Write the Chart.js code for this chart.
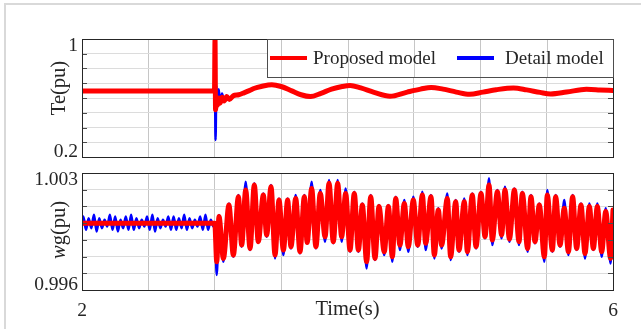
<!DOCTYPE html>
<html>
<head>
<meta charset="utf-8">
<title>Te and wg</title>
<script src="https://cdn.jsdelivr.net/npm/chart.js@4.4.1/dist/chart.umd.min.js"></script>
<style>
  html, body { margin: 0; padding: 0; background: #fff; }
  #wrap { position: relative; width: 641px; height: 329px; overflow: hidden; }
  #wrap canvas { position: absolute; left: 0; }
  #teChart { top: 0; }
  #wgChart { top: 165px; }
  .edge { position: absolute; background: #d9d9d9; }
</style>
</head>
<body>
<div id="wrap">
  <div class="edge" style="left:4px;top:3px;width:2px;height:326px"></div>
  <div class="edge" style="left:4px;top:3px;width:637px;height:2px"></div>
  <canvas id="teChart" width="641" height="165"></canvas>
  <canvas id="wgChart" width="641" height="164"></canvas>
</div>
<script>
// ---- data ----
const seriesNames = ["Proposed model", "Detail model"];

// top panel: electromagnetic torque
const teTime = [2.0, 2.5, 2.998, 3.002, 3.006, 3.012, 3.02, 3.03, 3.04, 3.055, 3.07, 3.09, 3.11, 3.14, 3.18, 3.22,
  3.26, 3.30, 3.35, 3.43, 3.50, 3.58, 3.65, 3.72, 3.80, 3.88, 3.96, 4.02, 4.10, 4.20, 4.32, 4.45,
  4.55, 4.63, 4.72, 4.82, 4.92, 5.02, 5.12, 5.25, 5.35, 5.45, 5.53, 5.65, 5.80, 5.90, 6.0];
const teProposed = [0.647, 0.647, 0.647, 1.0, 0.52, 0.59, 0.55, 0.60, 0.565, 0.605, 0.58, 0.61, 0.59, 0.615, 0.622, 0.635,
  0.65, 0.666, 0.678, 0.69, 0.678, 0.648, 0.622, 0.61, 0.632, 0.66, 0.678, 0.685, 0.668, 0.638, 0.612, 0.64,
  0.66, 0.672, 0.66, 0.64, 0.625, 0.64, 0.656, 0.668, 0.655, 0.638, 0.627, 0.64, 0.659, 0.655, 0.65];
const teDetail = [0.647, 0.647, 0.647, 0.65, 0.315, 0.685, 0.56, 0.66, 0.565, 0.63, 0.58, 0.615, 0.59, 0.612, 0.62, 0.633,
  0.65, 0.668, 0.68, 0.692, 0.676, 0.645, 0.618, 0.605, 0.63, 0.66, 0.68, 0.687, 0.666, 0.635, 0.608, 0.638,
  0.66, 0.674, 0.66, 0.638, 0.622, 0.64, 0.657, 0.67, 0.655, 0.636, 0.625, 0.64, 0.66, 0.656, 0.65];
const teTicks = ["0.2", "1"];

// bottom panel: generator speed
const wgStartTime = [2.0, 3.0];
const wgStartProposed = [1.0, 1.0];
const wgPreTime = [2.000, 2.010, 2.030, 2.050, 2.070, 2.090, 2.110, 2.130, 2.150, 2.170, 2.190, 2.210, 2.230,
  2.250, 2.270, 2.290, 2.310, 2.330, 2.350, 2.370, 2.390, 2.410, 2.430, 2.450, 2.470, 2.490, 2.510,
  2.530, 2.550, 2.570, 2.590, 2.610, 2.630, 2.650, 2.670, 2.690, 2.710, 2.730, 2.750, 2.770, 2.790,
  2.810, 2.830, 2.850, 2.870, 2.890, 2.910, 2.930, 2.950, 2.970, 2.990, 3.000];
const wgPreDetail = [1.0000, 1.0004, 0.9996, 1.0003, 0.9997, 1.0005, 0.9995, 1.0003, 0.9997, 1.0002, 0.9998,
  1.0005, 0.9996, 1.0004, 0.9995, 1.0002, 0.9997, 1.0004, 0.9996, 1.0005, 0.9996, 1.0003, 0.9997,
  1.0002, 0.9998, 1.0004, 0.9996, 1.0005, 0.9995, 1.0003, 0.9997, 1.0002, 0.9998, 1.0004, 0.9996,
  1.0004, 0.9996, 1.0003, 0.9997, 1.0005, 0.9996, 1.0003, 0.9997, 1.0002, 0.9998, 1.0004, 0.9996,
  1.0005, 0.9996, 1.0002, 0.9998, 1.0000];
const wgTime = [3.015, 3.032, 3.065, 3.107, 3.140, 3.178, 3.203, 3.233, 3.266, 3.298,
  3.328, 3.366, 3.391, 3.424, 3.454, 3.484, 3.517, 3.549, 3.574, 3.610,
  3.642, 3.675, 3.696, 3.730, 3.762, 3.795, 3.831, 3.861, 3.893, 3.926,
  3.956, 3.986, 4.019, 4.051, 4.082, 4.112, 4.144, 4.175, 4.207, 4.237,
  4.277, 4.308, 4.338, 4.363, 4.395, 4.428, 4.458, 4.496, 4.529, 4.564,
  4.589, 4.629, 4.654, 4.684, 4.709, 4.752, 4.777, 4.815, 4.840, 4.880,
  4.903, 4.940, 4.968, 5.006, 5.036, 5.066, 5.091, 5.129, 5.161, 5.186,
  5.220, 5.257, 5.292, 5.317, 5.357, 5.382, 5.412, 5.445, 5.483, 5.505,
  5.543, 5.568, 5.601, 5.633, 5.664, 5.696, 5.726, 5.759, 5.789, 5.822,
  5.852, 5.882, 5.915, 5.945, 5.982, 6.000];
const wgProposed = [0.99769, 1.00039, 0.99789, 1.00108, 0.99809, 1.00158, 0.99869, 1.00198, 0.99849, 1.00228,
  0.99889, 1.00168, 0.99929, 1.00218, 0.99809, 1.00138, 0.99839, 1.00138, 0.99859, 1.00148,
  0.99829, 1.00158, 0.99884, 1.00208, 0.99859, 1.00178, 0.99919, 1.00238, 0.99889, 1.00238,
  0.99919, 1.00178, 0.99839, 1.00178, 0.99839, 1.00108, 0.99769, 1.00158, 0.99789, 1.00099,
  0.99829, 1.00099, 0.99799, 1.00148, 0.99869, 1.00118, 0.99859, 1.00138, 0.99869, 1.00168,
  0.99879, 1.00158, 0.99809, 1.00079, 0.99869, 1.00148, 0.99799, 1.00128, 0.99839, 1.00128,
  0.99829, 1.00168, 0.99859, 1.00178, 0.99919, 1.00228, 0.99899, 1.00188, 0.99929, 1.00198,
  0.99905, 1.00198, 0.99889, 1.00178, 0.99849, 1.00158, 0.99889, 1.00108, 0.99799, 1.00168,
  0.99839, 1.00158, 0.99869, 1.00089, 0.99829, 1.00158, 0.99849, 1.00108, 0.99819, 1.00099,
  0.99849, 1.00099, 0.99829, 1.00069, 0.99789, 1.00079];
const wgDetail = [0.99690, 1.00049, 0.99769, 1.00118, 0.99799, 1.00168, 0.99859, 1.00248, 0.99839, 1.00238,
  0.99889, 1.00178, 0.99919, 1.00228, 0.99789, 1.00148, 0.99809, 1.00148, 0.99849, 1.00168,
  0.99819, 1.00168, 0.99879, 1.00248, 0.99849, 1.00198, 0.99889, 1.00258, 0.99879, 1.00258,
  0.99889, 1.00208, 0.99829, 1.00188, 0.99829, 1.00118, 0.99729, 1.00168, 0.99779, 1.00108,
  0.99809, 1.00108, 0.99769, 1.00158, 0.99839, 1.00138, 0.99829, 1.00158, 0.99859, 1.00188,
  0.99839, 1.00168, 0.99789, 1.00089, 0.99849, 1.00178, 0.99779, 1.00138, 0.99829, 1.00148,
  0.99809, 1.00178, 0.99849, 1.00188, 0.99909, 1.00268, 0.99869, 1.00198, 0.99909, 1.00218,
  0.99889, 1.00208, 0.99869, 1.00188, 0.99829, 1.00168, 0.99879, 1.00118, 0.99769, 1.00198,
  0.99829, 1.00168, 0.99859, 1.00138, 0.99809, 1.00168, 0.99839, 1.00118, 0.99789, 1.00118,
  0.99839, 1.00118, 0.99799, 1.00089, 0.99759, 1.00079];
const wgTicks = ["0.996", "1.003"];

const timeTickValues = [2, 6];
const timeTicks = ["2", "6"];

// ---- drawing ----
const SERIF = '"Liberation Serif", "Times New Roman", serif';
const INK = "#262626";
const GRID_X = "#c6c6c6";
const GRID_Y = "#dcdcdc";

Chart.defaults.font.family = SERIF;
Chart.defaults.color = INK;

function pts(t, v) {
  return t.map((x, i) => ({ x: x, y: v[i] }));
}

function drawRotated(ctx, parts, cx, cy, size) {
  ctx.save();
  ctx.translate(cx, cy);
  ctx.rotate(-Math.PI / 2);
  let total = 0;
  parts.forEach(p => {
    ctx.font = (p.italic ? "italic " : "") + size + "px " + SERIF;
    p.w = ctx.measureText(p.text).width;
    total += p.w;
  });
  let x = -total / 2;
  ctx.textAlign = "left";
  ctx.textBaseline = "middle";
  parts.forEach(p => {
    ctx.font = (p.italic ? "italic " : "") + size + "px " + SERIF;
    ctx.fillText(p.text, x, 0);
    x += p.w;
  });
  ctx.restore();
}

// MATLAB-like box, inner ticks, end labels, titles and legend
const boxPlugin = {
  id: "matlabBox",
  afterDraw(chart, args, opts) {
    const ctx = chart.ctx;
    const a = chart.chartArea;
    const xs = chart.scales.x;
    const ys = chart.scales.y;
    ctx.save();

    // tick marks inside the box, left and right
    ctx.strokeStyle = "#4a4a4a";
    ctx.lineWidth = 1;
    ys.ticks.forEach(tk => {
      const py = Math.round(ys.getPixelForValue(tk.value)) + 0.5;
      ctx.beginPath();
      ctx.moveTo(a.left, py); ctx.lineTo(a.left + 5, py);
      ctx.moveTo(a.right, py); ctx.lineTo(a.right - 5, py);
      ctx.stroke();
    });

    ctx.strokeStyle = INK;
    ctx.strokeRect(Math.round(a.left) + 0.5, Math.round(a.top) + 0.5,
      Math.round(a.right - a.left), Math.round(a.bottom - a.top));

    // y labels only at the ends, kept inside the axis span
    ctx.fillStyle = INK;
    ctx.font = "19.5px " + SERIF;
    ctx.textAlign = "right";
    ctx.textBaseline = "alphabetic";
    ctx.fillText(opts.labels[1], a.left - 4, ys.getPixelForValue(ys.max) + 12);
    ctx.fillText(opts.labels[0], a.left - 4, ys.getPixelForValue(ys.min));

    drawRotated(ctx, opts.yTitle, 60, (a.top + a.bottom) / 2 + opts.titleShift, 20.5);

    if (opts.xTitle) {
      ctx.font = "20.5px " + SERIF;
      ctx.textAlign = "center";
      ctx.fillText(opts.xTitle, xs.getPixelForValue(4), a.bottom + 25);
    }

    if (opts.legend) {
      const lx = 267, ly = a.top, lw = a.right - 267, lh = 38;
      ctx.fillStyle = "#fff";
      ctx.fillRect(lx, ly, lw, lh);
      ctx.strokeStyle = GRID_X;
      xs.ticks.forEach(tk => {
        const px = Math.round(xs.getPixelForValue(tk.value)) + 0.5;
        if (px > lx && px < a.right - 1) {
          ctx.beginPath(); ctx.moveTo(px, ly); ctx.lineTo(px, ly + lh); ctx.stroke();
        }
      });
      ctx.strokeStyle = "#4d4d4d";
      ctx.strokeRect(lx + 0.5, ly + 0.5, lw, lh);
      const slots = [{ x: 270, tx: 313 }, { x: 457, tx: 505 }];
      ctx.font = "19px " + SERIF;
      ctx.textAlign = "left";
      ctx.textBaseline = "middle";
      chart.data.datasets.forEach((ds, i) => {
        const s = slots[i];
        const my = ly + lh / 2;
        ctx.strokeStyle = ds.borderColor;
        ctx.lineWidth = 4;
        ctx.beginPath(); ctx.moveTo(s.x, my); ctx.lineTo(s.x + 37, my); ctx.stroke();
        ctx.fillStyle = INK;
        ctx.fillText(ds.label, s.tx, my + 1);
      });
    }
    ctx.restore();
  }
};

function panelOptions(yMin, yMax, yStep, padding, xHeight, showTime, box) {
  return {
    responsive: false,
    animation: false,
    layout: { padding: padding },
    elements: { point: { radius: 0 }, line: { borderJoinStyle: "round", borderCapStyle: "round" } },
    plugins: { legend: { display: false }, tooltip: { enabled: false }, matlabBox: box },
    scales: {
      x: {
        type: "linear", min: 2, max: 6,
        ticks: {
          stepSize: 0.5, display: showTime, autoSkip: false, maxRotation: 0, padding: 9,
          font: { size: 19.5 }, color: INK,
          callback: v => {
            const i = timeTickValues.indexOf(v);
            return i >= 0 ? timeTicks[i] : "";
          }
        },
        grid: { color: GRID_X, drawTicks: false },
        border: { display: false },
        afterFit: s => { s.height = xHeight; s.paddingLeft = 0; s.paddingRight = 0; }
      },
      y: {
        min: yMin, max: yMax,
        ticks: { stepSize: yStep, display: false },
        grid: { color: GRID_Y, drawTicks: false },
        border: { display: false },
        afterFit: s => { s.width = 82; s.paddingTop = 0; s.paddingBottom = 0; }
      }
    }
  };
}

new Chart(document.getElementById("teChart"), {
  type: "line",
  data: {
    datasets: [
      { label: seriesNames[0], data: pts(teTime, teProposed), borderColor: "#ff0000", borderWidth: 5, cubicInterpolationMode: "monotone" },
      { label: seriesNames[1], data: pts(teTime, teDetail), borderColor: "#0000ff", borderWidth: 2.5, cubicInterpolationMode: "monotone" }
    ]
  },
  options: panelOptions(0.2, 1, 0.1, { top: 39, right: 28, bottom: 8, left: 0 }, 0, false,
    { labels: teTicks, yTitle: [{ text: "Te(pu)" }], titleShift: -10, legend: true }),
  plugins: [boxPlugin]
});

new Chart(document.getElementById("wgChart"), {
  type: "line",
  data: {
    datasets: [
      { label: seriesNames[0], data: pts(wgStartTime, wgStartProposed).concat(pts(wgTime, wgProposed)), borderColor: "#ff0000", borderWidth: 5, cubicInterpolationMode: "monotone" },
      { label: seriesNames[1], data: pts(wgPreTime, wgPreDetail).concat(pts(wgTime, wgDetail)), borderColor: "#0000ff", borderWidth: 2.5, cubicInterpolationMode: "monotone" }
    ]
  },
  options: panelOptions(0.996, 1.003, 0.001, { top: 8, right: 28, bottom: 0, left: 0 }, 39, true,
    { labels: wgTicks, yTitle: [{ text: "w", italic: true }, { text: "g(pu)" }], titleShift: -1.5, xTitle: "Time(s)" }),
  plugins: [boxPlugin]
});
</script>
</body>
</html>
